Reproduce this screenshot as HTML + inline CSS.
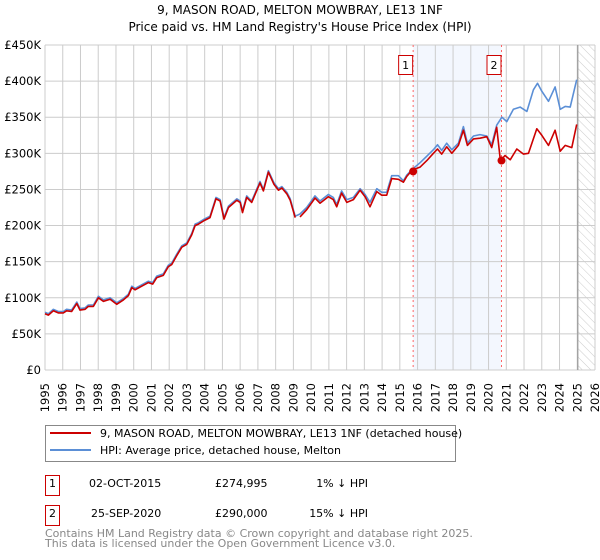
<!DOCTYPE html>
<html><head><meta charset="utf-8"><style>
body{margin:0;background:#fff;}
svg{display:block;font-family:"DejaVu Sans","Liberation Sans",sans-serif;}
</style></head><body>
<svg id="chart" width="600" height="560" viewBox="0 0 600 560">
<defs>
<pattern id="hatch" patternUnits="userSpaceOnUse" width="6" height="6" patternTransform="rotate(-45)">
<line x1="0" y1="0" x2="0" y2="6" stroke="#ccc" stroke-width="1"/>
</pattern>
</defs>
<text x="300" y="14" text-anchor="middle" font-size="12" fill="#000">9, MASON ROAD, MELTON MOWBRAY, LE13 1NF</text>
<text x="300" y="31" text-anchor="middle" font-size="12" fill="#000">Price paid vs. HM Land Registry's House Price Index (HPI)</text>
<g id="grid"></g>
<g id="marks"></g>
<g id="axes"></g>
<g>
<rect x="45.5" y="425.5" width="410" height="36" fill="#fff" stroke="#888"/>
<line x1="50" y1="433" x2="91" y2="433" stroke="#cc0000" stroke-width="2"/>
<text x="100" y="437" font-size="11">9, MASON ROAD, MELTON MOWBRAY, LE13 1NF (detached house)</text>
<line x1="50" y1="450" x2="91" y2="450" stroke="#5b8fd6" stroke-width="2"/>
<text x="100" y="454" font-size="11">HPI: Average price, detached house, Melton</text>
</g>
<g>
<rect x="45.5" y="475.5" width="14" height="20" fill="#fff" stroke="#cc0000"/>
<text x="52.5" y="487" text-anchor="middle" font-size="11">1</text>
<text x="89" y="487" font-size="11">02-OCT-2015</text>
<text x="215" y="487" font-size="11">£274,995</text>
<text x="368" y="487" text-anchor="end" font-size="11">1% ↓ HPI</text>
<rect x="45.5" y="505.5" width="14" height="20" fill="#fff" stroke="#cc0000"/>
<text x="52.5" y="517" text-anchor="middle" font-size="11">2</text>
<text x="91" y="517" font-size="11">25-SEP-2020</text>
<text x="215" y="517" font-size="11">£290,000</text>
<text x="368" y="517" text-anchor="end" font-size="11">15% ↓ HPI</text>
</g>
<text x="45" y="537" font-size="11" fill="#888">Contains HM Land Registry data © Crown copyright and database right 2025.</text>
<text x="45" y="547" font-size="11" fill="#888">This data is licensed under the Open Government Licence v3.0.</text>
</svg>
<script>
const yTicks = [0,50000,100000,150000,200000,250000,300000,350000,400000,450000];
const yTickLabels = ["£0","£50K","£100K","£150K","£200K","£250K","£300K","£350K","£400K","£450K"];
const xTicks = [1995,1996,1997,1998,1999,2000,2001,2002,2003,2004,2005,2006,2007,2008,2009,2010,2011,2012,2013,2014,2015,2016,2017,2018,2019,2020,2021,2022,2023,2024,2025,2026];
const hpiYears = [1995.00,1995.19,1995.47,1995.75,1996.03,1996.22,1996.50,1996.79,1996.97,1997.26,1997.44,1997.73,1998.01,1998.29,1998.67,1999.04,1999.42,1999.70,1999.89,2000.08,2000.45,2000.83,2001.07,2001.30,2001.67,2001.95,2002.14,2002.42,2002.71,2002.99,2003.27,2003.46,2003.65,2003.98,2004.30,2004.64,2004.87,2005.09,2005.34,2005.81,2006.00,2006.13,2006.37,2006.65,2007.12,2007.31,2007.59,2007.91,2008.16,2008.35,2008.63,2008.82,2009.10,2009.37,2009.75,2010.22,2010.50,2010.97,2011.25,2011.44,2011.72,2012.01,2012.38,2012.76,2013.04,2013.32,2013.70,2013.98,2014.26,2014.54,2014.92,2015.20,2015.39,2015.71,2016.14,2016.52,2016.89,2017.12,2017.36,2017.64,2017.93,2018.30,2018.58,2018.81,2019.15,2019.52,2019.90,2020.18,2020.46,2020.75,2021.03,2021.40,2021.78,2022.16,2022.53,2022.76,2023.00,2023.38,2023.75,2024.04,2024.32,2024.60,2024.97];
const hpiValues = [80,78,84,81,81,84,83,94,85,86,90,90,102,97,100,93,99,105,116,113,118,123,121,130,133,145,148,160,172,176,189,202,204,209,213,239,236,211,227,237,234,220,241,234,261,250,276,259,251,254,246,237,213,216,225,241,234,243,239,229,248,236,239,251,243,232,251,246,246,269,269,262,270,278,287,296,305,312,304,314,305,314,337,314,324,326,324,312,339,350,344,361,364,358,388,397,386,372,392,361,365,364,402];
const saleYears = [2009.37,2009.75,2010.22,2010.50,2010.97,2011.25,2011.44,2011.72,2012.01,2012.38,2012.76,2013.04,2013.32,2013.70,2013.98,2014.26,2014.54,2014.92,2015.20,2015.39,2015.71,2016.14,2016.52,2016.89,2017.12,2017.36,2017.64,2017.93,2018.30,2018.58,2018.81,2019.15,2019.52,2019.90,2020.18,2020.46,2020.67,2020.93,2021.22,2021.59,2021.97,2022.25,2022.72,2023.00,2023.38,2023.75,2024.04,2024.32,2024.69,2024.97];
const earlyRedValues = [78,76,82,79,79,82,81,92,83,84,88,88,100,95,98,91,97,103,114,111,116,121,119,128,131,143,146,158,170,174,187,200,202,207,211,237,234,209,225,235,232,218,239,232,259,248,274,257,249,252,244,235,211];
const lateRedValues = [212,222,238,231,240,236,226,245,232,236,249,240,226,247,242,242,265,264,260,268,277,281,290,300,306,299,309,300,311,332,311,320,321,323,308,336,290,297,291,306,299,300,334,325,311,332,303,311,308,340];
const saleDates = [2015.75,2020.73];
const salePrices = [274995,290000];
const saleLabels = ["1","2"];

const NS="http://www.w3.org/2000/svg";
const X0=45,X1=595,Y0=370,Y1=45;
function xs(yr){return X0+(yr-1995)/(2026-1995)*(X1-X0);}
function ys(v){return Y0-v/450000*(Y0-Y1);}
function mk(tag,attrs,parent){const e=document.createElementNS(NS,tag);for(const k in attrs)e.setAttribute(k,attrs[k]);parent.appendChild(e);return e;}
const grid=document.getElementById('grid'),marks=document.getElementById('marks'),axes=document.getElementById('axes');

// shaded band between sales
let band=mk('rect',{x:xs(saleDates[0]),y:Y1,width:xs(saleDates[1])-xs(saleDates[0]),height:Y0-Y1,fill:'#eef3fd',opacity:0.7},grid);


// hatched future
const hx=xs(2025.03);
let hatch=mk('rect',{x:hx,y:Y1,width:X1-hx,height:Y0-Y1,fill:'url(#hatch)'},grid);



yTicks.forEach((t,i)=>{
  let l=mk('line',{x1:X0,x2:X1,y1:ys(t),y2:ys(t),stroke:'#cccccc','stroke-width':1},grid);
  
  
  let tx=mk('text',{x:X0-4,y:ys(t)+4,'text-anchor':'end','font-size':11.5,fill:'#000'},axes);
  tx.textContent=yTickLabels[i];
  
  
});
xTicks.forEach(t=>{
  let l=mk('line',{x1:xs(t),x2:xs(t),y1:Y1,y2:Y0,stroke:'#cccccc','stroke-width':1},grid);
  
  
  let tx=mk('text',{x:0,y:0,'text-anchor':'end','font-size':11.5,fill:'#000',transform:'translate('+(xs(t)+4)+',383) rotate(-90)'},axes);
  tx.textContent=String(t);
  
  
});
let vl=mk('line',{x1:hx,x2:hx,y1:Y1,y2:Y0,stroke:'#999','stroke-width':1.2},grid);



saleDates.forEach((d,i)=>{
  let l=mk('line',{x1:xs(d),x2:xs(d),y1:Y1,y2:Y0,stroke:'#ff6666','stroke-width':1,'stroke-dasharray':'2,3'},marks);
  
  
});

function path(xsA,vs,color,name){
  let d=xsA.map((x,i)=>(i?'L':'M')+xs(x).toFixed(1)+','+ys(vs[i]*1000).toFixed(1)).join('');
  let p=mk('path',{d:d,fill:'none',stroke:color,'stroke-width':1.6,'stroke-linejoin':'round'},marks);
  
  
}
path(hpiYears,hpiValues,'#5b8fd6','hpi-line');
path(hpiYears.slice(0,earlyRedValues.length),earlyRedValues,'#cc0000','property-line-early');
path(saleYears,lateRedValues,'#cc0000','property-line');

saleDates.forEach((d,i)=>{
  let c=mk('circle',{cx:xs(d),cy:ys(salePrices[i]),r:4,fill:'#cc0000'},marks);
  
  
  let r=mk('rect',{x:xs(d)-14.5,y:55.5,width:14,height:19,fill:'#fff',stroke:'#cc0000'},marks);
  
  
  let t=mk('text',{x:xs(d)-7.5,y:69,'text-anchor':'middle','font-size':11},marks);
  t.textContent=saleLabels[i];
  
  
});
</script>
</body></html>
